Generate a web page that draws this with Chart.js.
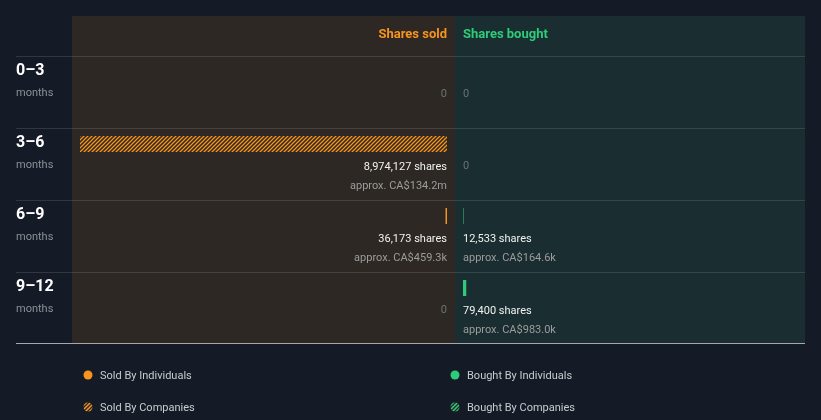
<!DOCTYPE html>
<html>
<head>
<meta charset="utf-8">
<script src="https://cdn.jsdelivr.net/npm/chart.js@4"></script>
<style>
    html, body { margin: 0; padding: 0; background: #151b26; }
    #wrap { width: 821px; height: 420px; }
</style>
</head>
<body>
<div id="wrap"><canvas id="insiderChart" width="821" height="420"></canvas></div>
<script>
// Insider trading by period - data
const periods = ['0–3', '3–6', '6–9', '9–12'];
const soldIndividuals = [0, 0, 36173, 0];
const soldCompanies = [0, 8974127, 0, 0];
const boughtIndividuals = [0, 0, 12533, 79400];
const boughtCompanies = [0, 0, 0, 0];
const soldValue = [0, 134.2e6, 459.3e3, 0];
const boughtValue = [0, 0, 164.6e3, 983.0e3];

(function() {
    'use strict';

    const ORANGE = '#f7941d';
    const GREEN = '#2dcc7a';
    const FONT = 'Roboto, "Noto Sans", sans-serif';

    // layout (pixels)
    const L = { left: 16, area: 72, mid: 455, right: 805, top: 16, rowsTop: 56, rowH: 72, bottom: 343, gap: 8, barMax: 367 };

    const soldTotals = periods.map((p, i) => soldIndividuals[i] + soldCompanies[i]);
    const boughtTotals = periods.map((p, i) => boughtIndividuals[i] + boughtCompanies[i]);
    const maxVal = Math.max(...soldTotals, ...boughtTotals);
    const k = maxVal / L.barMax; // units per pixel

    function hatch(color) {
        const c = document.createElement('canvas');
        c.width = 4; c.height = 4;
        const g = c.getContext('2d');
        g.strokeStyle = color;
        g.lineWidth = 1.25;
        // diagonal + wrapped corners so the tile repeats seamlessly
        [[-1, 5, 5, -1], [-1, 1, 1, -1], [3, 5, 5, 3]].forEach(([x1, y1, x2, y2]) => {
            g.beginPath();
            g.moveTo(x1, y1);
            g.lineTo(x2, y2);
            g.stroke();
        });
        return g.createPattern(c, 'repeat');
    }

    function fmtValue(v) {
        if (v >= 1e6) return 'approx. CA$' + (v / 1e6).toFixed(1) + 'm';
        return 'approx. CA$' + (v / 1e3).toFixed(1) + 'k';
    }

    // zero means no bar
    const toBars = (arr, sign) => arr.map(v => v ? sign * v : null);

    const panelPlugin = {
        id: 'panels',
        beforeDraw(chart) {
            const ctx = chart.ctx;
            ctx.save();
            ctx.fillStyle = '#151b26';
            ctx.fillRect(0, 0, chart.width, chart.height);
            ctx.fillStyle = '#2d2823';
            ctx.fillRect(L.area, L.top, L.mid - L.area, L.bottom - L.top);
            ctx.fillStyle = '#1a2d30';
            ctx.fillRect(L.mid, L.top, L.right - L.mid, L.bottom - L.top);

            // header
            ctx.font = 'bold 13px ' + FONT;
            ctx.textBaseline = 'middle';
            ctx.textAlign = 'right';
            ctx.fillStyle = ORANGE;
            ctx.fillText('Shares sold', L.mid - L.gap, 35);
            ctx.textAlign = 'left';
            ctx.fillStyle = GREEN;
            ctx.fillText('Shares bought', L.mid + L.gap, 35);

            // row separators and labels
            periods.forEach((p, i) => {
                const top = L.rowsTop + i * L.rowH;
                ctx.fillStyle = 'rgba(255,255,255,0.12)';
                ctx.fillRect(L.left, top, L.right - L.left, 1);
                ctx.textAlign = 'left';
                ctx.fillStyle = '#ffffff';
                ctx.font = 'bold 16px ' + FONT;
                ctx.fillText(p, L.left, top + 15);
                ctx.fillStyle = '#8b9097';
                ctx.font = '11px ' + FONT;
                ctx.fillText('months', L.left, top + 37);
            });
            ctx.fillStyle = '#a3a9ac';
            ctx.fillRect(L.left, L.bottom, L.right - L.left, 1);
            ctx.restore();
        },
        afterDraw(chart) {
            const ctx = chart.ctx;
            ctx.save();
            ctx.textBaseline = 'middle';
            periods.forEach((p, i) => {
                const top = L.rowsTop + i * L.rowH;
                [[soldTotals[i], soldValue[i], 'right', L.mid - L.gap],
                 [boughtTotals[i], boughtValue[i], 'left', L.mid + L.gap]].forEach(([n, v, align, x]) => {
                    ctx.textAlign = align;
                    ctx.font = '11px ' + FONT;
                    if (!n) {
                        ctx.fillStyle = '#6c7273';
                        ctx.fillText('0', x, top + 38);
                        return;
                    }
                    ctx.fillStyle = '#f2f2f2';
                    ctx.fillText(n.toLocaleString('en-US') + ' shares', x, top + 39);
                    ctx.fillStyle = '#9c9c9c';
                    ctx.fillText(fmtValue(v), x, top + 58);
                });
            });

            // legend
            const ds = chart.data.datasets;
            const spots = [[88, 376], [88, 408], [455, 376], [455, 408]];
            ds.forEach((d, i) => {
                const [x, y] = spots[i];
                ctx.save();
                ctx.beginPath();
                ctx.arc(x, y - 1, 4.5, 0, Math.PI * 2);
                if (d.hatched) {
                    ctx.clip();
                    ctx.fillStyle = '#2a2a2a';
                    ctx.fillRect(x - 5, y - 6, 10, 10);
                    ctx.strokeStyle = d.baseColor;
                    ctx.lineWidth = 1.5;
                    for (let o = -6; o <= 6; o += 4) {
                        ctx.beginPath();
                        ctx.moveTo(x - 6 + o, y + 5);
                        ctx.lineTo(x + 6 + o, y - 7);
                        ctx.stroke();
                    }
                } else {
                    ctx.fillStyle = d.baseColor;
                    ctx.fill();
                }
                ctx.restore();
                ctx.fillStyle = '#c8cbcf';
                ctx.textAlign = 'left';
                ctx.font = '11px ' + FONT;
                ctx.fillText(d.label, x + 12, y);
            });
            ctx.restore();
        }
    };

    const common = { barThickness: 16, grouped: false, borderWidth: 0, borderSkipped: false, inflateAmount: 0 };

    new Chart(document.getElementById('insiderChart'), {
        type: 'bar',
        data: {
            labels: periods,
            datasets: [
                Object.assign({ label: 'Sold By Individuals', data: toBars(soldIndividuals, -1), xAxisID: 'xs',
                    backgroundColor: ORANGE, baseColor: ORANGE }, common),
                Object.assign({ label: 'Sold By Companies', data: toBars(soldCompanies, -1), xAxisID: 'xs',
                    backgroundColor: hatch(ORANGE), baseColor: ORANGE, hatched: true }, common),
                Object.assign({ label: 'Bought By Individuals', data: toBars(boughtIndividuals, 1), xAxisID: 'xb',
                    backgroundColor: GREEN, baseColor: GREEN }, common),
                Object.assign({ label: 'Bought By Companies', data: toBars(boughtCompanies, 1), xAxisID: 'xb',
                    backgroundColor: hatch(GREEN), baseColor: GREEN, hatched: true }, common)
            ]
        },
        options: {
            indexAxis: 'y',
            responsive: false,
            animation: false,
            layout: { padding: { left: L.area, right: 821 - L.right, top: L.rowsTop - 20, bottom: 420 - (L.rowsTop - 20 + 4 * L.rowH) } },
            plugins: { legend: { display: false }, tooltip: { enabled: false } },
            scales: {
                y: { display: false, offset: true },
                xs: { type: 'linear', display: false,
                    min: -(L.mid - L.gap - L.area) * k, max: (L.right - L.mid + L.gap) * k },
                xb: { type: 'linear', display: false,
                    min: -(L.mid + L.gap - L.area) * k, max: (L.right - L.mid - L.gap) * k }
            }
        },
        plugins: [panelPlugin]
    });
})();
</script>
</body>
</html>
